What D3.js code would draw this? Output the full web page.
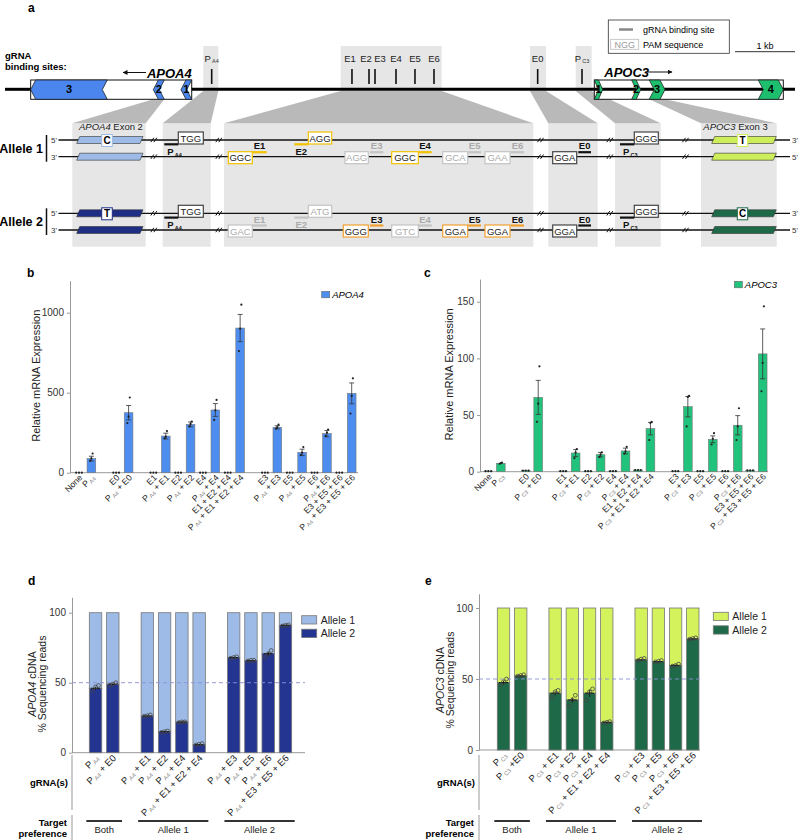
<!DOCTYPE html>
<html>
<head>
<meta charset="utf-8">
<script src="https://cdn.jsdelivr.net/npm/d3@7"></script>
<style>
  body { margin: 0; background: #fff; }
  svg { display: block; font-family: "Liberation Sans", Arial, Helvetica, sans-serif; }
</style>
</head>
<body>
<svg id="fig" width="800" height="840"></svg>
<script>
// ---------- data ----------
// panels b / c : guide combinations, split into groups (a gap between groups)
const exprGroupsA4 = [
  ["None", "P_A4"],
  ["E0", "P_A4 + E0"],
  ["E1", "P_A4 + E1", "E2", "P_A4 + E2", "E4", "P_A4 + E4", "E1 + E2 + E4", "P_A4 + E1 + E2 + E4"],
  ["E3", "P_A4 + E3", "E5", "P_A4 + E5", "E6", "P_A4 + E6", "E3 + E5 + E6", "P_A4 + E3 + E5 + E6"]
];
const exprGroupsC3 = [
  ["None", "P_C3"],
  ["E0", "P_C3 + E0"],
  ["E1", "P_C3 + E1", "E2", "P_C3 + E2", "E4", "P_C3 + E4", "E1 + E2 + E4", "P_C3 + E1 + E2 + E4"],
  ["E3", "P_C3 + E3", "E5", "P_C3 + E5", "E6", "P_C3 + E6", "E3 + E5 + E6", "P_C3 + E3 + E5 + E6"]
];
const apoa4Mean = [0, 88, 0, 375, 0, 229, 0, 302, 0, 392, 0, 904, 0, 284, 0, 127, 0, 244, 0, 496];
const apoa4Err  = [0, 15, 0, 45, 0, 18, 0, 15, 0, 40, 0, 85, 0, 10, 0, 20, 0, 20, 0, 65];
const apoa4Pts  = [[0,0,0],[75,90,120],[0,0,0],[310,350,470],[0,0,0],[215,225,260],[0,0,0],[290,305,320],
                   [0,0,0],[330,390,455],[0,0,0],[760,900,1050],[0,0,0],[275,285,300],[0,0,0],[110,125,160],
                   [0,0,0],[230,250,270],[0,0,0],[370,480,590]];
const apoc3Mean = [0.5, 7.4, 1, 65.6, 0.5, 16.5, 0.5, 15, 0.5, 18.3, 1.5, 38, 0.5, 57.4, 0.5, 28.6, 0.5, 41, 1.2, 104];
const apoc3Err  = [0.2, 0.5, 0.3, 15, 0.2, 3, 0.2, 2, 0.2, 2.5, 0.4, 5.5, 0.2, 9, 0.2, 3, 0.2, 8.5, 0.4, 22];
const apoc3Pts  = [[0.5,0.5,0.5],[7,7.5,8],[1,1,1],[44,60,93],[0.5,0.5,0.5],[12,17,20],[0.5,0.5,0.5],[13,15,17],
                   [0.5,0.5,0.5],[16,18,22],[1.5,1.5,1.5],[28,43,44],[0.5,0.5,0.5],[40,66,67],[0.5,0.5,0.5],[24,29,34],
                   [0.5,0.5,0.5],[28,40,56],[1.2,1.2,1.2],[71,96,146]];

// panels d / e : allele-specific reads
const alleleGroupsA4 = [["P_A4", "P_A4 + E0"],
  ["P_A4 + E1", "P_A4 + E2", "P_A4 + E4", "P_A4 + E1 + E2 + E4"],
  ["P_A4 + E3", "P_A4 + E5", "P_A4 + E6", "P_A4 + E3 + E5 + E6"]];
const alleleGroupsC3 = [["P_C3", "P_C3 +E0"],
  ["P_C3 + E1", "P_C3 + E2", "P_C3 + E4", "P_C3 + E1 + E2 + E4"],
  ["P_C3 + E3", "P_C3 + E5", "P_C3 + E6", "P_C3 + E3 + E5 + E6"]];
const targetPref = ["Both", "Allele 1", "Allele 2"];
const a4Allele2 = [46, 48.9, 26.2, 15, 21.9, 5.7, 67.9, 65.7, 70.7, 91];
const a4Err     = [1.2, 0.5, 0.3, 0.5, 0.3, 0.3, 0.3, 0.2, 1.5, 0.2];
const a4Pts     = [[44,47,48],[48,49,50],[26,26.5,27],[14.5,15,15.5],[21.5,22,22],[5.5,6,6.5],
                   [67.5,68,68.5],[65.5,66,66],[68,70.5,73],[90.5,91,91.3]];
const c3Allele2 = [47.5, 52.1, 40, 35.2, 40, 19.5, 63.4, 62.2, 59.6, 78.2];
const c3Err     = [1.3, 0.3, 1.5, 2, 2.5, 0.3, 0.4, 0.3, 0.4, 0.3];
const c3Pts     = [[46,48,50],[52,52.5,53],[37,41,42],[31,35,38.5],[35,41,43],[19,19.5,20],
                   [63,64,64.5],[62,62.5,63],[59,59.5,60.5],[78,78.5,79]];

// panel a : locus map (positions in kb)
const apoa4Exons = [{n: "3", s: 0.428, e: 1.705}, {n: "2", s: 2.472, e: 2.655}, {n: "1", s: 2.933, e: 3.112}];
const apoc3Exons = [{n: "1", s: 9.822, e: 9.962}, {n: "2", s: 10.445, e: 10.595}, {n: "3", s: 10.738, e: 11.0}, {n: "4", s: 12.555, e: 12.972}];
const gSites = [{id: "P_A4", kb: 3.445, lab: 3.445}, {id: "E1", kb: 5.783, lab: 5.75}, {id: "E2", kb: 6.067, lab: 6.017},
  {id: "E3", kb: 6.167, lab: 6.25}, {id: "E4", kb: 6.517, lab: 6.517}, {id: "E5", kb: 6.833, lab: 6.833},
  {id: "E6", kb: 7.15, lab: 7.15}, {id: "E0", kb: 8.878, lab: 8.878}, {id: "P_C3", kb: 9.617, lab: 9.617}];
const siteBoxes = [[3.305, 3.555], [5.595, 7.278], [8.75, 9.017], [9.512, 9.778]];

const svg = d3.select("#fig");
const GRID = "#999";

function richText(sel, str, subSize, subFill, subDy) {
  const parts = str.split(/(P_[A-Z0-9]+)/).filter(p => p.length);
  let pending = 0;
  parts.forEach(p => {
    if (p.startsWith("P_")) {
      sel.append("tspan").attr("dy", pending || null).text("P");
      sel.append("tspan").attr("dy", subDy).attr("font-size", subSize).attr("fill", subFill).text("\u2009" + p.slice(2));
      pending = -subDy;
    } else {
      sel.append("tspan").attr("dy", pending || null).text(p);
      pending = 0;
    }
  });
}

function slotDomain(groups) {
  const dom = [];
  groups.forEach((g, i) => { if (i > 0) dom.push("gap" + i); g.forEach(c => dom.push(c)); });
  return dom;
}

function styleAxis(g) {
  g.select(".domain").attr("stroke", GRID);
  g.selectAll(".tick line").attr("stroke", GRID);
  g.selectAll(".tick text").attr("fill", "#333").attr("font-size", 10).attr("font-family", null);
}

// panel letters
[["a", 28, 12], ["b", 27, 277], ["c", 424, 277], ["d", 28, 585], ["e", 425, 585]].forEach(([t, x, y]) =>
  svg.append("text").attr("x", x).attr("y", y).attr("font-size", 12).attr("font-weight", "bold").text(t));

// ================= panel a =================
const kb = d3.scaleLinear().domain([0, 13.167]).range([5, 795]);
const trackY = 89.3, geneTop = 80, geneBot = 99.3;
const lowTop = 123.3, lowBot = 246.7;

// zoomed windows and links
const zoomLinks = [
  {from: [2.472, 2.655], fy: geneBot, to: [72.3, 145.7]},
  {from: [3.305, 3.555], fy: 91, to: [162.7, 210.7]},
  {from: [5.595, 7.278], fy: 91, to: [224, 533.3]},
  {from: [8.75, 9.017], fy: 91, to: [548.3, 597.7]},
  {from: [9.512, 9.778], fy: 91, to: [615, 660.7]},
  {from: [10.738, 11.0], fy: geneBot, to: [701, 776.7]}
];
const ga = svg.append("g");
ga.selectAll("rect.low").data(zoomLinks).join("rect")
  .attr("x", d => d.to[0]).attr("y", lowTop).attr("width", d => d.to[1] - d.to[0]).attr("height", lowBot - lowTop)
  .attr("fill", "#e6e6e6");
ga.selectAll("path.link").data(zoomLinks).join("path")
  .attr("d", d => `M${kb(d.from[0])},${d.fy}L${kb(d.from[1])},${d.fy}L${d.to[1]},${lowTop}L${d.to[0]},${lowTop}Z`)
  .attr("fill", "#b9b9b9");
ga.selectAll("rect.site").data(siteBoxes).join("rect")
  .attr("x", d => kb(d[0])).attr("y", 46).attr("width", d => kb(d[1]) - kb(d[0])).attr("height", 45)
  .attr("fill", "#e6e6e6");

// gene bodies
[apoa4Exons, apoc3Exons].forEach(ex => {
  const s = kb(d3.min(ex, d => d.s)), e = kb(d3.max(ex, d => d.e));
  ga.append("rect").attr("x", s).attr("y", geneTop).attr("width", e - s).attr("height", geneBot - geneTop)
    .attr("fill", "#fff").attr("stroke", "#111").attr("stroke-width", 1);
});
ga.append("line").attr("x1", kb(0)).attr("x2", kb(apoa4Exons[0].s)).attr("y1", trackY).attr("y2", trackY)
  .attr("stroke", "#000").attr("stroke-width", 3);
ga.append("line").attr("x1", kb(apoa4Exons[2].e)).attr("x2", kb(13.167)).attr("y1", trackY).attr("y2", trackY)
  .attr("stroke", "#000").attr("stroke-width", 3);

function chevron(d, dir) {
  const x0 = kb(d.s), x1 = kb(d.e), t = geneTop, b = geneBot, m = (t + b) / 2, k = Math.min(5, (x1 - x0) / 2);
  if (dir < 0) return [[x1, t], [x0 + k, t], [x0, m], [x0 + k, b], [x1, b], [x1 - k, m]];
  return [[x0, t], [x1 - k, t], [x1, m], [x1 - k, b], [x0, b], [x0 + k, m]];
}
[[apoa4Exons, -1, "#4a86ee"], [apoc3Exons, 1, "#1dbf6e"]].forEach(([ex, dir, col]) => {
  ga.selectAll(null).data(ex).join("polygon")
    .attr("points", d => chevron(d, dir).join(" "))
    .attr("fill", col).attr("stroke", "#222").attr("stroke-width", 0.8);
  ga.selectAll(null).data(ex).join("text")
    .attr("x", d => (kb(d.s) + kb(d.e)) / 2).attr("y", trackY + 4)
    .attr("text-anchor", "middle").attr("font-size", 11).attr("font-weight", "bold").text(d => d.n);
});

// gene names + direction arrows
const defs = svg.append("defs");
defs.append("marker").attr("id", "ah").attr("viewBox", "0 0 10 10").attr("refX", 9).attr("refY", 5)
  .attr("markerWidth", 5).attr("markerHeight", 5).attr("orient", "auto-start-reverse")
  .append("path").attr("d", "M0,0L10,5L0,10Z").attr("fill", "#111");
ga.append("text").attr("x", kb(apoa4Exons[2].e)).attr("y", 78).attr("text-anchor", "end")
  .attr("font-size", 13).attr("font-weight", "bold").attr("font-style", "italic").text("APOA4");
ga.append("line").attr("x1", 146).attr("x2", 123).attr("y1", 72.5).attr("y2", 72.5)
  .attr("stroke", "#111").attr("stroke-width", 1).attr("marker-end", "url(#ah)");
ga.append("text").attr("x", kb(apoc3Exons[0].s) + 10).attr("y", 77)
  .attr("font-size", 13).attr("font-weight", "bold").attr("font-style", "italic").text("APOC3");
ga.append("line").attr("x1", 645).attr("x2", 672).attr("y1", 72).attr("y2", 72)
  .attr("stroke", "#111").attr("stroke-width", 1).attr("marker-end", "url(#ah)");

// gRNA sites
ga.selectAll(null).data(gSites).join("line")
  .attr("x1", d => kb(d.kb)).attr("x2", d => kb(d.kb)).attr("y1", 69).attr("y2", 84)
  .attr("stroke", "#111").attr("stroke-width", 1.6);
ga.selectAll(null).data(gSites).join("text")
  .attr("x", d => kb(d.lab)).attr("y", 62).attr("text-anchor", "middle").attr("font-size", 9.5).attr("fill", "#222")
  .each(function (d) { richText(d3.select(this), d.id, 5.5, "#333", 1); });
ga.append("text").attr("x", 5).attr("y", 59).attr("font-size", 9.5).attr("font-weight", "bold").text("gRNA");
ga.append("text").attr("x", 5).attr("y", 69.5).attr("font-size", 9.5).attr("font-weight", "bold").text("binding sites:");

// key box + scale bar
ga.append("rect").attr("x", 608.3).attr("y", 20).attr("width", 121).attr("height", 33.3)
  .attr("fill", "#fff").attr("stroke", "#333").attr("stroke-width", 0.8);
ga.append("line").attr("x1", 619).attr("x2", 633).attr("y1", 29.5).attr("y2", 29.5).attr("stroke", "#888").attr("stroke-width", 2.5);
ga.append("text").attr("x", 643).attr("y", 32.5).attr("font-size", 9).text("gRNA binding site");
ga.append("rect").attr("x", 610.7).attr("y", 39.3).attr("width", 28).attr("height", 10)
  .attr("fill", "#fff").attr("stroke", "#bbb").attr("stroke-width", 0.8);
ga.append("text").attr("x", 624.7).attr("y", 47.6).attr("text-anchor", "middle").attr("font-size", 9).attr("fill", "#999").text("NGG");
ga.append("text").attr("x", 643).attr("y", 47.6).attr("font-size", 9).text("PAM sequence");
ga.append("line").attr("x1", kb(12.167)).attr("x2", kb(13.167)).attr("y1", 51.7).attr("y2", 51.7).attr("stroke", "#333");
ga.append("text").attr("x", (kb(12.167) + kb(13.167)) / 2).attr("y", 48.5).attr("text-anchor", "middle").attr("font-size", 9).text("1 kb");

// window captions
[[79, "APOA4", " Exon 2"], [703.3, "APOC3", " Exon 3"]].forEach(([x, g, rest]) => {
  const t = ga.append("text").attr("x", x).attr("y", 129.5).attr("font-size", 9.5).attr("fill", "#222");
  t.append("tspan").attr("font-style", "italic").text(g);
  t.append("tspan").text(rest);
});

// allele strands
const YEL = "#f2c200", ORA = "#f0a030", GRY = "#c4c4c4", DRK = "#444";
const alleles = [
  {name: "Allele 1", top: 140, bot: 156.7, exA4: "#9dbbe6", exC3: "#cdee5a", snpA4: "C", snpC3: "T",
   pams: [[178.3, 203.3, "top", "TGG", DRK], [308.3, 331.7, "top", "AGG", YEL], [228.3, 252.3, "bot", "GGC", YEL],
          [345, 368.3, "bot", "AGG", GRY], [391.7, 418.3, "bot", "GGC", YEL], [442.7, 467.7, "bot", "GCA", GRY],
          [485, 510, "bot", "GAA", GRY], [552.7, 576.7, "bot", "GGA", DRK], [634.3, 658.3, "top", "GGG", DRK]],
   guides: [[164.3, 178.3, "top", "P_A4", "#111"], [294.3, 308.3, "top", "E2", YEL], [252.3, 266.7, "bot", "E1", YEL],
            [370, 383.3, "bot", "E3", GRY], [418.3, 431.7, "bot", "E4", YEL], [468.3, 481, "bot", "E5", GRY],
            [511, 524, "bot", "E6", GRY], [578.3, 591, "bot", "E0", "#111"], [620, 634.3, "top", "P_C3", "#111"]]},
  {name: "Allele 2", top: 213.3, bot: 230, exA4: "#1f2e85", exC3: "#1e6a48", snpA4: "T", snpC3: "C",
   pams: [[178.3, 203.3, "top", "TGG", DRK], [308.3, 331.7, "top", "ATG", GRY], [228.3, 252.3, "bot", "GAC", GRY],
          [343.3, 368.3, "bot", "GGG", ORA], [391.7, 418.3, "bot", "GTC", GRY], [442.7, 467.7, "bot", "GGA", ORA],
          [485, 510, "bot", "GGA", ORA], [552.7, 576.7, "bot", "GGA", DRK], [634.3, 658.3, "top", "GGG", DRK]],
   guides: [[164.3, 178.3, "top", "P_A4", "#111"], [294.3, 308.3, "top", "E2", GRY], [252.3, 266.7, "bot", "E1", GRY],
            [370, 383.3, "bot", "E3", ORA], [418.3, 431.7, "bot", "E4", GRY], [468.3, 481, "bot", "E5", ORA],
            [511, 524, "bot", "E6", ORA], [578.3, 591, "bot", "E0", "#111"], [620, 634.3, "top", "P_C3", "#111"]]}
];
const breaks = [153.3, 218.3, 540, 609.3, 685];

alleles.forEach(al => {
  const g = svg.append("g");
  [[al.top, "5'", "3'"], [al.bot, "3'", "5'"]].forEach(([y, l, r]) => {
    g.append("line").attr("x1", 58.5).attr("x2", 790).attr("y1", y).attr("y2", y).attr("stroke", "#111").attr("stroke-width", 1.3);
    g.append("text").attr("x", 57).attr("y", y + 3).attr("text-anchor", "end").attr("font-size", 8).attr("fill", "#333").text(l);
    g.append("text").attr("x", 792).attr("y", y + 3).attr("font-size", 8).attr("fill", "#333").text(r);
    breaks.forEach(bx => [0, 3].forEach(o =>
      g.append("line").attr("x1", bx - 2.5 + o).attr("x2", bx + 0.5 + o).attr("y1", y + 2.2).attr("y2", y - 2.2)
        .attr("stroke", "#111").attr("stroke-width", 1)));
    // exon parallelograms
    [[76.7, 140, al.exA4], [711.7, 773.3, al.exC3]].forEach(([x0, x1, c]) =>
      g.append("polygon").attr("points", [[x0 + 3, y - 3.5], [x1 + 3, y - 3.5], [x1, y + 3.5], [x0, y + 3.5]].join(" "))
        .attr("fill", c).attr("stroke", "#333").attr("stroke-width", 0.6));
  });
  // SNP boxes on the top strand
  [[101.7, 112.3, al.snpA4, al.exA4], [737.3, 747.7, al.snpC3, al.exC3]].forEach(([x0, x1, t, c]) => {
    g.append("rect").attr("x", x0).attr("y", al.top - 5.5).attr("width", x1 - x0).attr("height", 12)
      .attr("fill", "#fff").attr("stroke", c).attr("stroke-width", 1);
    g.append("text").attr("x", (x0 + x1) / 2).attr("y", al.top + 4).attr("text-anchor", "middle")
      .attr("font-size", 10).attr("font-weight", "bold").text(t);
  });
  // PAM boxes
  al.pams.forEach(([x0, x1, s, t, c]) => {
    const y = s === "top" ? al.top - 8 : al.bot - 5;
    g.append("rect").attr("x", x0).attr("y", y).attr("width", x1 - x0).attr("height", 12)
      .attr("fill", "#fff").attr("stroke", c).attr("stroke-width", 1.2);
    g.append("text").attr("x", (x0 + x1) / 2).attr("y", y + 9.5).attr("text-anchor", "middle").attr("font-size", 9.5)
      .attr("fill", c === GRY ? "#aaa" : "#222").text(t);
  });
  // guide bars + names
  al.guides.forEach(([x0, x1, s, t, c]) => {
    const yb = s === "top" ? al.top + 4.3 : al.bot - 4.5;
    const yt = s === "top" ? al.top + 15 : al.bot - 7.5;
    g.append("line").attr("x1", x0).attr("x2", x1).attr("y1", yb).attr("y2", yb).attr("stroke", c).attr("stroke-width", 2.2);
    const tx = g.append("text").attr("x", t.startsWith("P_") ? x0 + 3 : (x0 + x1) / 2).attr("y", yt)
      .attr("text-anchor", t.startsWith("P_") ? "start" : "middle").attr("font-size", 9.5).attr("font-weight", "bold")
      .attr("fill", c === GRY ? "#aaa" : "#111");
    richText(tx, t, 5.5, c === GRY ? "#aaa" : "#111", 1.5);
  });
  g.append("text").attr("x", 43).attr("y", (al.top + al.bot) / 2 + 4.5).attr("text-anchor", "end")
    .attr("font-size", 12.5).attr("font-weight", "bold").text(al.name);
  g.append("line").attr("x1", 46.5).attr("x2", 46.5).attr("y1", al.top - 5).attr("y2", al.bot + 5)
    .attr("stroke", "#111").attr("stroke-width", 1.5);
});

// ================= panels b, c =================
function drawExpression(cfg) {
  const g = svg.append("g");
  const cats = cfg.groups.flat();
  const x = d3.scaleBand().domain(slotDomain(cfg.groups)).range(cfg.xRange).paddingInner(0.3).paddingOuter(0.15);
  const y = d3.scaleLinear().domain(cfg.yDomain).range(cfg.yRange);
  const bw = x.bandwidth();
  g.append("g").attr("transform", `translate(${cfg.axisX},0)`)
    .call(d3.axisLeft(y).tickValues(cfg.ticks).tickFormat(d3.format("d")).tickSize(3).tickSizeOuter(0).tickPadding(3))
    .call(styleAxis);
  g.append("line").attr("x1", cfg.axisX).attr("x2", cfg.axisEnd).attr("y1", y(0)).attr("y2", y(0)).attr("stroke", GRID);
  g.selectAll("rect.bar").data(cats).join("rect")
    .attr("x", d => x(d)).attr("y", (d, i) => y(cfg.mean[i])).attr("width", bw)
    .attr("height", (d, i) => y(0) - y(cfg.mean[i]))
    .attr("fill", cfg.color).attr("stroke", "#777").attr("stroke-width", 0.6);
  cats.forEach((c, i) => {
    const cx = x(c) + bw / 2, m = cfg.mean[i], e = cfg.err[i];
    if (e > 0.5) {
      g.append("line").attr("x1", cx).attr("x2", cx).attr("y1", y(m - e)).attr("y2", y(m + e)).attr("stroke", "#333").attr("stroke-width", 0.8);
      [m - e, m + e].forEach(v => g.append("line").attr("x1", cx - 2.5).attr("x2", cx + 2.5).attr("y1", y(v)).attr("y2", y(v))
        .attr("stroke", "#333").attr("stroke-width", 0.8));
    }
    const spread = m < cfg.yDomain[1] * 0.02 ? 2.8 : 1.2;
    cfg.pts[i].forEach((v, k) => g.append("circle").attr("cx", cx + (k - 1) * spread).attr("cy", y(v)).attr("r", 1.1).attr("fill", "#222"));
    const t = g.append("text").attr("transform", `translate(${cx + 4},${y(0) + 5.5}) rotate(-45)`)
      .attr("text-anchor", "end").attr("font-size", 8.6).attr("fill", "#222");
    richText(t, c, 5.5, "#777", 1.3);
  });
  g.append("text").attr("transform", `translate(${cfg.labelX},${(cfg.yRange[0] + cfg.yRange[1]) / 2 - 1}) rotate(-90)`)
    .attr("text-anchor", "middle").attr("font-size", 11).attr("fill", "#222").text("Relative mRNA Expression");
  g.append("rect").attr("x", cfg.legend[0]).attr("y", cfg.legend[1]).attr("width", 8).attr("height", 6.5)
    .attr("fill", cfg.color).attr("stroke", "#666").attr("stroke-width", 0.6);
  g.append("text").attr("x", cfg.legend[0] + 10.5).attr("y", cfg.legend[1] + 6.5).attr("font-size", 9.5)
    .attr("font-style", "italic").text(cfg.gene);
}
drawExpression({groups: exprGroupsA4, mean: apoa4Mean, err: apoa4Err, pts: apoa4Pts, color: "#4d8df0", gene: "APOA4",
  xRange: [72.8, 357.9], yDomain: [0, 1200], yRange: [472.7, 280.7], ticks: [0, 500, 1000],
  axisX: 70, axisEnd: 358, labelX: 39.5, legend: [321.7, 291.3]});
drawExpression({groups: exprGroupsC3, mean: apoc3Mean, err: apoc3Err, pts: apoc3Pts, color: "#21c27c", gene: "APOC3",
  xRange: [482.1, 768.9], yDomain: [0, 170], yRange: [471.7, 279.1], ticks: [0, 50, 100, 150],
  axisX: 480, axisEnd: 768, labelX: 453, legend: [734.3, 281.3]});

// ================= panels d, e =================
function drawAllele(cfg) {
  const g = svg.append("g");
  const cats = cfg.groups.flat();
  const x = d3.scaleBand().domain(slotDomain(cfg.groups)).range(cfg.xRange).paddingInner(0.28).paddingOuter(0.14);
  const y = d3.scaleLinear().domain(cfg.yDomain).range(cfg.yRange);
  const bw = x.bandwidth();
  g.append("g").attr("transform", `translate(${cfg.axisX},0)`)
    .call(d3.axisLeft(y).tickValues([0, 50, 100]).tickSize(3).tickSizeOuter(0).tickPadding(3)).call(styleAxis);
  g.append("line").attr("x1", cfg.axisX).attr("x2", cfg.axisEnd).attr("y1", y(0)).attr("y2", y(0)).attr("stroke", GRID);
  // allele 1 on top, allele 2 below
  g.selectAll("rect.a1").data(cats).join("rect")
    .attr("x", d => x(d)).attr("y", y(100)).attr("width", bw).attr("height", (d, i) => y(cfg.a2[i]) - y(100))
    .attr("fill", cfg.c1).attr("stroke", "#777").attr("stroke-width", 0.8);
  g.selectAll("rect.a2").data(cats).join("rect")
    .attr("x", d => x(d)).attr("y", (d, i) => y(cfg.a2[i])).attr("width", bw).attr("height", (d, i) => y(0) - y(cfg.a2[i]))
    .attr("fill", cfg.c2).attr("stroke", "#777").attr("stroke-width", 0.8);
  g.append("line").attr("x1", cfg.axisX).attr("x2", cfg.axisEnd).attr("y1", y(50)).attr("y2", y(50))
    .attr("stroke", "#8c90d8").attr("stroke-width", 0.9).attr("stroke-dasharray", "4,3");
  cats.forEach((c, i) => {
    const cx = x(c) + bw / 2, m = cfg.a2[i], e = cfg.err[i];
    g.append("line").attr("x1", cx - 4.5).attr("x2", cx + 4.5).attr("y1", y(m)).attr("y2", y(m)).attr("stroke", "#111").attr("stroke-width", 1);
    g.append("line").attr("x1", cx).attr("x2", cx).attr("y1", y(m - e)).attr("y2", y(m + e)).attr("stroke", "#111").attr("stroke-width", 0.8);
    cfg.pts[i].forEach((v, k) => g.append("circle").attr("cx", cx + (k - 1) * 3).attr("cy", y(v)).attr("r", 1.9)
      .attr("fill", "none").attr("stroke", "#444").attr("stroke-width", 0.8));
    const t = g.append("text").attr("transform", `translate(${cx + 4},${y(0) + 6}) rotate(-45)`)
      .attr("text-anchor", "end").attr("font-size", 9.5).attr("fill", "#222");
    richText(t, c, 6, "#888", 1.3);
  });
  // y label (two lines)
  const cy = cfg.labelY;
  const t1 = g.append("text").attr("transform", `translate(${cfg.labelX},${cy}) rotate(-90)`)
    .attr("text-anchor", "middle").attr("font-size", 10.5).attr("fill", "#222");
  t1.append("tspan").attr("font-style", "italic").text(cfg.gene);
  t1.append("tspan").text(" cDNA");
  g.append("text").attr("transform", `translate(${cfg.labelX + 10.5},${cy}) rotate(-90)`)
    .attr("text-anchor", "middle").attr("font-size", 10.5).attr("fill", "#222").text("%  Sequencing reads");
  // legend
  [["Allele 1", cfg.c1], ["Allele 2", cfg.c2]].forEach(([n, c], k) => {
    g.append("rect").attr("x", cfg.legend[0]).attr("y", cfg.legend[1] + k * 13.5).attr("width", 15).attr("height", 8.3)
      .attr("fill", c).attr("stroke", "#777").attr("stroke-width", 0.8);
    g.append("text").attr("x", cfg.legend[0] + 19).attr("y", cfg.legend[1] + k * 13.5 + 8).attr("font-size", 10.5).attr("fill", "#222").text(n);
  });
  // gRNA(s) / target preference rows
  g.append("text").attr("x", cfg.axisX - 4).attr("y", 786).attr("text-anchor", "end").attr("font-size", 9.5)
    .attr("font-weight", "bold").text("gRNA(s)");
  g.append("text").attr("x", cfg.axisX - 5).attr("y", 826).attr("text-anchor", "end").attr("font-size", 9.5)
    .attr("font-weight", "bold").text("Target");
  g.append("text").attr("x", cfg.axisX - 5).attr("y", 836.5).attr("text-anchor", "end").attr("font-size", 9.5)
    .attr("font-weight", "bold").text("preference");
  [[755, 810], [815, 840]].forEach(([a, b]) => g.append("line").attr("x1", cfg.axisX).attr("x2", cfg.axisX)
    .attr("y1", a).attr("y2", b).attr("stroke", GRID));
  cfg.groups.forEach((grp, k) => {
    const x0 = x(grp[0]) - 3, x1 = x(grp[grp.length - 1]) + bw + 3;
    g.append("line").attr("x1", x0).attr("x2", x1).attr("y1", 821).attr("y2", 821).attr("stroke", "#333").attr("stroke-width", 1.8);
    g.append("text").attr("x", (x0 + x1) / 2).attr("y", 833).attr("text-anchor", "middle").attr("font-size", 9.5)
      .attr("fill", "#222").text(targetPref[k]);
  });
}
drawAllele({groups: alleleGroupsA4, a2: a4Allele2, err: a4Err, pts: a4Pts, c1: "#9dbbe6", c2: "#233590", gene: "APOA4",
  xRange: [86.9, 294.1], yDomain: [0, 111], yRange: [752.7, 597.3], axisX: 72, axisEnd: 305,
  labelX: 35.5, labelY: 684, legend: [301.7, 615.7]});
drawAllele({groups: alleleGroupsC3, a2: c3Allele2, err: c3Err, pts: c3Pts, c1: "#d3f25c", c2: "#1e6a48", gene: "APOC3",
  xRange: [494.9, 701.4], yDomain: [0, 110], yRange: [750, 593.8], axisX: 479, axisEnd: 700,
  labelX: 443.5, labelY: 680, legend: [713.3, 612.3]});
</script>
</body>
</html>
